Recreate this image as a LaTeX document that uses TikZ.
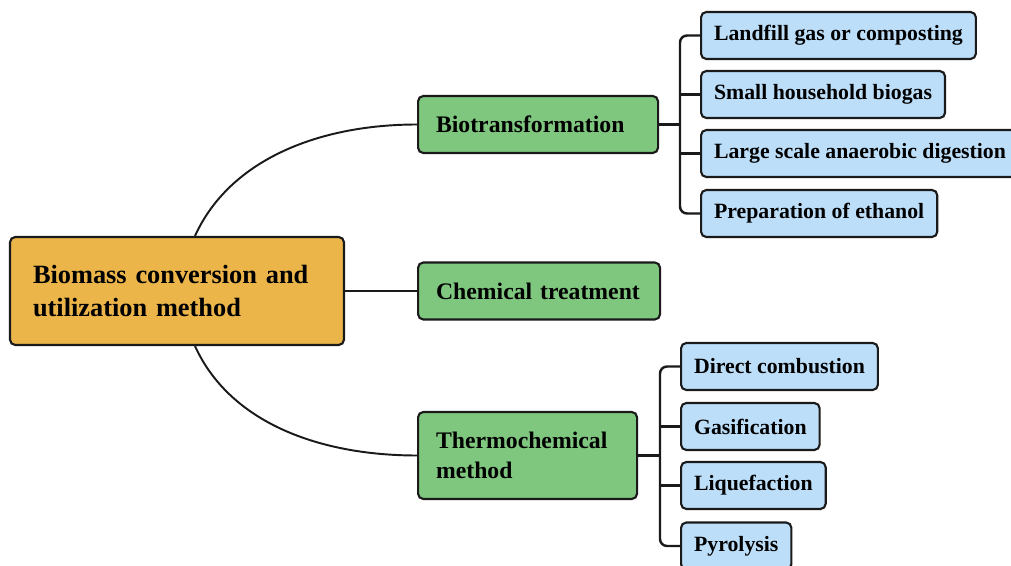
\documentclass[tikz,border=0pt]{standalone}
\usepackage{fontspec}
\setmainfont{Liberation Serif}
\usetikzlibrary{positioning, calc}
\usepackage{xcolor}
\definecolor{bmorange}{HTML}{EBB54A}
\definecolor{bmgreen}{HTML}{7FC67F}
\definecolor{bmblue}{HTML}{BCDEF9}
\definecolor{bmline}{HTML}{1A1A1A}

\tikzset{
  rootbox/.style={draw=bmline, fill=bmorange, line width=1.2pt, rounded corners=3pt,
    font=\fontsize{15}{19}\selectfont\bfseries, align=left, text=black,
    inner xsep=0.46cm, text width=5.76cm, minimum height=2.16cm},
  methodbox/.style={draw=bmline, fill=bmgreen, line width=1.2pt, rounded corners=3pt,
    font=\fontsize{13.5}{17}\selectfont\bfseries, align=left, text=black,
    inner xsep=0.36cm, minimum height=1.14cm, anchor=west},
  leafbox/.style={draw=bmline, fill=bmblue, line width=1.2pt, rounded corners=3pt,
    font=\fontsize{12.4}{15}\selectfont\bfseries, text=black,
    inner xsep=0.26cm, minimum height=0.94cm, anchor=west},
  link/.style={draw=bmline, line width=1.4pt},
  branch/.style={draw=bmline, line width=1.1pt}
}

\begin{document}
\begin{tikzpicture}
        \useasboundingbox (0,0) rectangle (20.22,-11.32);
        \clip (0,0) rectangle (20.22,-11.32);
        \fill[white] (0,0) rectangle (20.22,-11.32);

        \node[rootbox] (root) at (3.54,-5.82)
              {Biomass conversion and\\utilization method};

        \node[methodbox, text width=4.08cm] (bio) at (8.34,-2.49) {Biotransformation};
        \node[methodbox, text width=4.12cm] (chem) at (8.34,-5.82) {Chemical treatment};
        \node[methodbox, text width=3.66cm, minimum height=1.74cm] (thermo) at (8.34,-9.11)
              {Thermochemical\\method};

        \node[leafbox] (landfill) at (14.0,-0.71) {Landfill gas or composting};
        \node[leafbox] (household) at (14.0,-1.89) {Small household biogas};
        \node[leafbox] (anaerobic) at (14.0,-3.07) {Large scale anaerobic digestion};
        \node[leafbox] (ethanol) at (14.0,-4.27) {Preparation of ethanol};

        \node[leafbox] (combustion) at (13.6,-7.33) {Direct combustion};
        \node[leafbox] (gasify) at (13.6,-8.53) {Gasification};
        \node[leafbox] (liquefy) at (13.6,-9.71) {Liquefaction};
        \node[leafbox] (pyro) at (13.6,-10.92) {Pyrolysis};

        % root to the three methods
        \draw[branch] ($(root.north)+(0.36,0)$) .. controls +(0.7,1.54) and +(-1.94,0) .. (bio.west);
        \draw[link] (root.east) -- (chem.west);
        \draw[branch] ($(root.south)+(0.36,0)$) .. controls +(0.7,-1.54) and +(-1.94,0) .. (thermo.west);

        % brackets to the leaves
        \coordinate (biojoint) at (13.6,-2.49);
        \draw[link] (bio.east) -- (biojoint);
        \draw[link, rounded corners=4pt] (landfill.west) -| (biojoint) |- (ethanol.west);
        \draw[link] (household.west) -- (household.west -| biojoint);
        \draw[link] (anaerobic.west) -- (anaerobic.west -| biojoint);

        \coordinate (thermojoint) at (13.2,-9.11);
        \draw[link] (thermo.east) -- (thermojoint);
        \draw[link, rounded corners=4pt] (combustion.west) -| (thermojoint) |- (pyro.west);
        \draw[link] (gasify.west) -- (gasify.west -| thermojoint);
        \draw[link] (liquefy.west) -- (liquefy.west -| thermojoint);
      \end{tikzpicture}
\end{document}
